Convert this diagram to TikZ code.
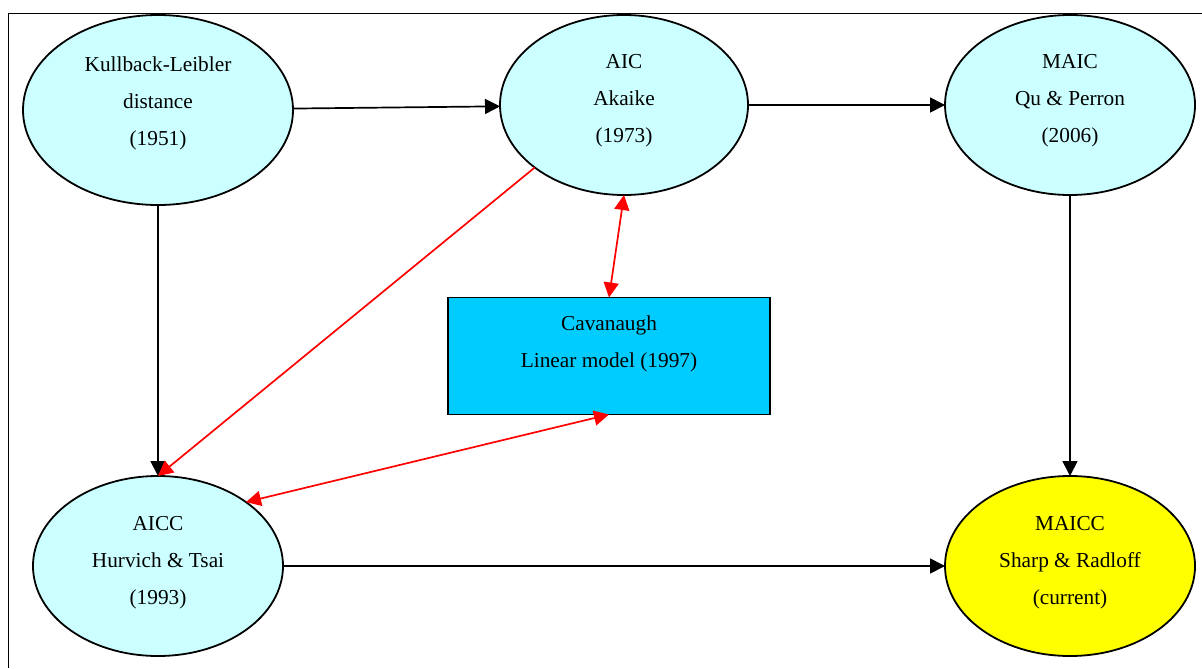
\documentclass[tikz,border=0pt]{standalone}
\usepackage{fontspec}
\setmainfont{Liberation Serif}
\usetikzlibrary{arrows.meta,shapes.geometric}
\definecolor{lcyan}{HTML}{CCFFFF}
\definecolor{dcyan}{HTML}{00CCFF}
\definecolor{yel}{HTML}{FFFF00}
\definecolor{redl}{HTML}{FF0000}
\begin{document}
\begin{tikzpicture}[x=0.5pt,y=-0.5pt,
  oval/.style={ellipse,draw=black,line width=0.9pt,fill=lcyan,inner sep=0pt,outer sep=0pt},
  boxnode/.style={rectangle,draw=black,line width=0.9pt,fill=dcyan,inner sep=0pt,outer sep=0pt},
  lbl/.style={align=center,font=\fontsize{10.65}{18.5}\selectfont,inner sep=0pt},
  tip/.style={},
  blk/.style={draw=black,line width=0.85pt,-{Triangle[length=7.5pt,width=7.5pt]}},
  rd/.style={draw=redl,line width=0.85pt,-{Triangle[length=7.5pt,width=7.5pt]}},
  rdd/.style={draw=redl,line width=0.85pt,{Triangle[length=7.5pt,width=7.5pt]}-{Triangle[length=7.5pt,width=7.5pt]}},
  frame/.style={draw=black,line width=0.5pt}]
\useasboundingbox (0,0) rectangle (1202,668);
\coordinate (fa) at (8,668);
\coordinate (fb) at (8,14);
\coordinate (fc) at (1202,14);
\draw[frame] (fa) -- (fb) -- (fc);
\node[oval,minimum width=135pt,minimum height=95pt] (KL) at (158,110) {};
\node[oval,minimum width=124pt,minimum height=90pt] (AIC) at (624,105) {};
\node[oval,minimum width=125pt,minimum height=90pt] (MAIC) at (1070,105) {};
\node[oval,minimum width=125pt,minimum height=90pt] (AICC) at (158,566) {};
\node[oval,fill=yel,minimum width=125pt,minimum height=90pt] (MAICC) at (1070,566) {};
\node[boxnode,minimum width=161pt,minimum height=58.5pt] (CAV) at (609,356) {};
\node[lbl] (KLt) at (158,103.5) {Kullback-Leibler\\distance\\(1951)};
\node[lbl] (AICt) at (624,100.5) {AIC\\Akaike\\(1973)};
\node[lbl] (MAICt) at (1070,100.5) {MAIC\\Qu \& Perron\\(2006)};
\node[lbl] (AICCt) at (158,562.5) {AICC\\Hurvich \& Tsai\\(1993)};
\node[lbl] (MAICCt) at (1070,562.5) {MAICC\\Sharp \& Radloff\\(current)};
\node[lbl] (CAVt) at (609,343.5) {Cavanaugh\\Linear model (1997)};
\draw[blk] (KL) -- (AIC);
\draw[blk] (AIC) -- (MAIC);
\draw[blk] (KL) -- (AICC);
\draw[blk] (MAIC) -- (MAICC);
\draw[blk] (AICC) -- (MAICC);
\draw[rd] (AIC.215.6) -- (AICC.north);
\draw[rdd] (CAV.north) -- (AIC.south);
\draw[rdd] (CAV.south) -- (AICC.36);
\end{tikzpicture}
\end{document}
